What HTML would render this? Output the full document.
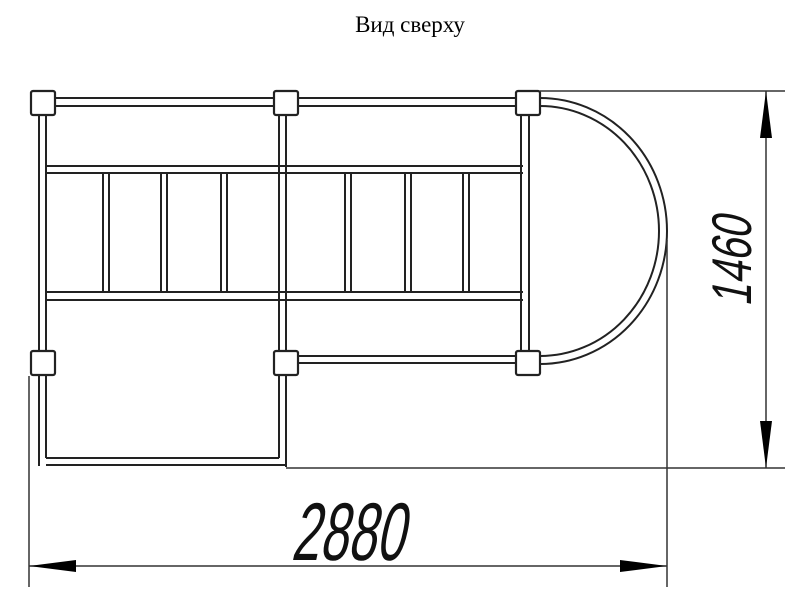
<!DOCTYPE html>
<html><head><meta charset="utf-8"><style>
html,body{margin:0;padding:0;background:#fff;}
svg{display:block;}
</style></head><body>
<svg width="800" height="600" viewBox="0 0 800 600" xmlns="http://www.w3.org/2000/svg">
<rect width="800" height="600" fill="#fff"/>
<text x="410" y="32" text-anchor="middle" font-family="Liberation Serif, serif" font-size="23" fill="#000">Вид сверху</text>
<g stroke="#222" stroke-width="2" fill="none">
<line x1="55" y1="98" x2="516" y2="98"/><line x1="55" y1="106" x2="516" y2="106"/>
<line x1="47" y1="166" x2="523" y2="166"/><line x1="47" y1="173" x2="523" y2="173"/>
<line x1="47" y1="292" x2="523" y2="292"/><line x1="47" y1="300" x2="523" y2="300"/>
<g>
<line x1="103" y1="173" x2="103" y2="292"/><line x1="109" y1="173" x2="109" y2="292"/>
<line x1="161" y1="173" x2="161" y2="292"/><line x1="167" y1="173" x2="167" y2="292"/>
<line x1="221" y1="173" x2="221" y2="292"/><line x1="227" y1="173" x2="227" y2="292"/>
<line x1="345" y1="173" x2="345" y2="292"/><line x1="351" y1="173" x2="351" y2="292"/>
<line x1="405" y1="173" x2="405" y2="292"/><line x1="411" y1="173" x2="411" y2="292"/>
<line x1="463" y1="173" x2="463" y2="292"/><line x1="469" y1="173" x2="469" y2="292"/>
</g>
<line x1="39" y1="115" x2="39" y2="350"/><line x1="46" y1="115" x2="46" y2="350"/>
<line x1="279" y1="115" x2="279" y2="350"/><line x1="286" y1="115" x2="286" y2="350"/>
<line x1="521" y1="115" x2="521" y2="350"/><line x1="529" y1="115" x2="529" y2="350"/>
<line x1="39" y1="376" x2="39" y2="466"/><line x1="46" y1="376" x2="46" y2="458"/>
<line x1="279" y1="376" x2="279" y2="458"/><line x1="286" y1="376" x2="286" y2="467"/>
<line x1="46" y1="458" x2="279" y2="458"/><line x1="46" y1="465" x2="286" y2="465"/>
<line x1="298" y1="356" x2="516" y2="356"/><line x1="298" y1="363" x2="516" y2="363"/>
<path d="M540 98 A127 133 0 0 1 667 231 A127 133 0 0 1 540 364"/>
<path d="M540 106 A119 125 0 0 1 659 231 A119 125 0 0 1 540 356"/>
</g>
<g stroke="#222" stroke-width="2.2" fill="#fff">
<rect x="31" y="91" width="24" height="24" rx="2"/>
<rect x="274" y="91" width="24" height="24" rx="2"/>
<rect x="516" y="91" width="24" height="24" rx="2"/>
<rect x="31" y="351" width="24" height="24" rx="2"/>
<rect x="274" y="351" width="24" height="24" rx="2"/>
<rect x="516" y="351" width="24" height="24" rx="2"/>
</g>
<g stroke="#333" stroke-width="1.5" fill="none">
<line x1="540" y1="91" x2="785" y2="91"/>
<line x1="286" y1="468" x2="785" y2="468"/>
<line x1="766" y1="91" x2="766" y2="468"/>
<line x1="667" y1="240" x2="667" y2="587"/>
<line x1="29" y1="376" x2="29" y2="587"/>
<line x1="29" y1="566" x2="667" y2="566"/>
</g>
<g fill="#000">
<polygon points="766,91 760,138 772,138"/>
<polygon points="766,468 760,421 772,421"/>
<polygon points="29,566 76,560 76,572"/>
<polygon points="667,566 620,560 620,572"/>
</g>
<text transform="translate(347,560) skewX(-12) scale(0.62,1)" text-anchor="middle" font-family="Liberation Sans, sans-serif" font-size="82" fill="#111">2880</text>
<text transform="translate(751,262) rotate(-90) skewX(-12) scale(0.72,1)" text-anchor="middle" font-family="Liberation Sans, sans-serif" font-size="56" fill="#111">1460</text>
</svg>
</body></html>
